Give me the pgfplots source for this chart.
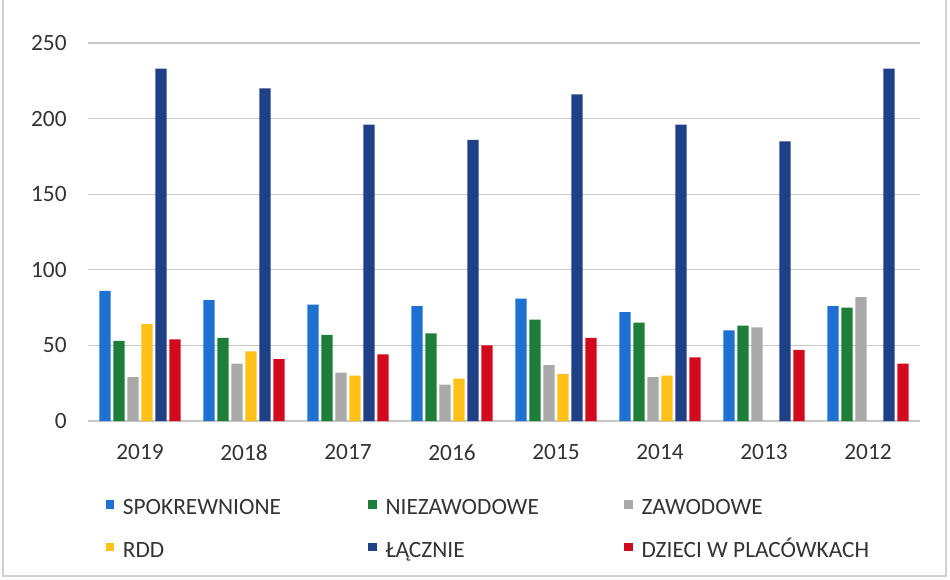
\documentclass[border=0pt]{standalone}
\usepackage{pgfplots}
\pgfplotsset{compat=1.18}
\usepackage{fontspec}
\setmainfont{Carlito}
\definecolor{cBlue}{HTML}{1E70D2}
\definecolor{cGreen}{HTML}{1E7D36}
\definecolor{cGray}{HTML}{A9A9A9}
\definecolor{cYellow}{HTML}{FFC018}
\definecolor{cNavy}{HTML}{1F3F86}
\definecolor{cRed}{HTML}{D20A1E}
\definecolor{cText}{HTML}{333333}
\begin{document}
\begin{tikzpicture}[x=0.75pt,y=0.75pt]
\useasboundingbox (0,0) rectangle (950,579);
\draw[black!18, line width=1.2pt] (3,579) -- (3,3) -- (946,3) -- (946,579);
\begin{axis}[
  at={(66pt,118.5pt)}, anchor=south west,
  scale only axis, width=624pt, height=283.5pt,
  ybar=2.1pt, bar width=8.4pt,
  xmin=-0.5, xmax=7.5, ymin=0, ymax=250,
  xtick={0,...,7},
  xticklabels={2019,2018,2017,2016,2015,2014,2013,2012},
  ytick={0,50,100,150,200,250},
  axis line style={draw=none},
  major tick length=0pt,
  ymajorgrids, grid style={black!22, line width=0.8pt},
  /pgf/number format/assume math mode=true,
  tick label style={font=\fontsize{17.5}{21}\selectfont, text=cText},
  yticklabel style={xshift=-12.5pt},
  xticklabel style={yshift=-14pt},
  legend columns=3,
  legend cell align=left,
  legend image code/.code={\fill[#1] (0pt,1.2pt) rectangle (6.5pt,7.7pt);},
  legend style={
    at={(13pt,-59pt)}, anchor=north west,
    draw=none, fill=none, inner sep=0pt,
    font=\fontsize{17.5}{21}\selectfont, text=cText,
    nodes={inner sep=2pt, text height=0.9em, text depth=0.25em},
    row sep=16.5pt,
    /tikz/every odd column/.append style={column sep=4.5pt},
  },
]
\addplot[fill=cBlue, draw=none] coordinates {(0,86) (1,80) (2,77) (3,76) (4,81) (5,72) (6,60) (7,76)};
\addlegendentry{\makebox[182pt][l]{SPOKREWNIONE}}
\addplot[fill=cGreen, draw=none] coordinates {(0,53) (1,55) (2,57) (3,58) (4,67) (5,65) (6,63) (7,75)};
\addlegendentry{\makebox[177pt][l]{NIEZAWODOWE}}
\addplot[fill=cGray, draw=none] coordinates {(0,29) (1,38) (2,32) (3,24) (4,37) (5,29) (6,62) (7,82)};
\addlegendentry{ZAWODOWE}
\addplot[fill=cYellow, draw=none] coordinates {(0,64) (1,46) (2,30) (3,28) (4,31) (5,30)};
\addlegendentry{RDD}
\addplot[fill=cNavy, draw=none] coordinates {(0,233) (1,220) (2,196) (3,186) (4,216) (5,196) (6,185) (7,233)};
\addlegendentry{ŁĄCZNIE}
\addplot[fill=cRed, draw=none] coordinates {(0,54) (1,41) (2,44) (3,50) (4,55) (5,42) (6,47) (7,38)};
\addlegendentry{DZIECI W PLACÓWKACH}
\end{axis}
\end{tikzpicture}
\end{document}
